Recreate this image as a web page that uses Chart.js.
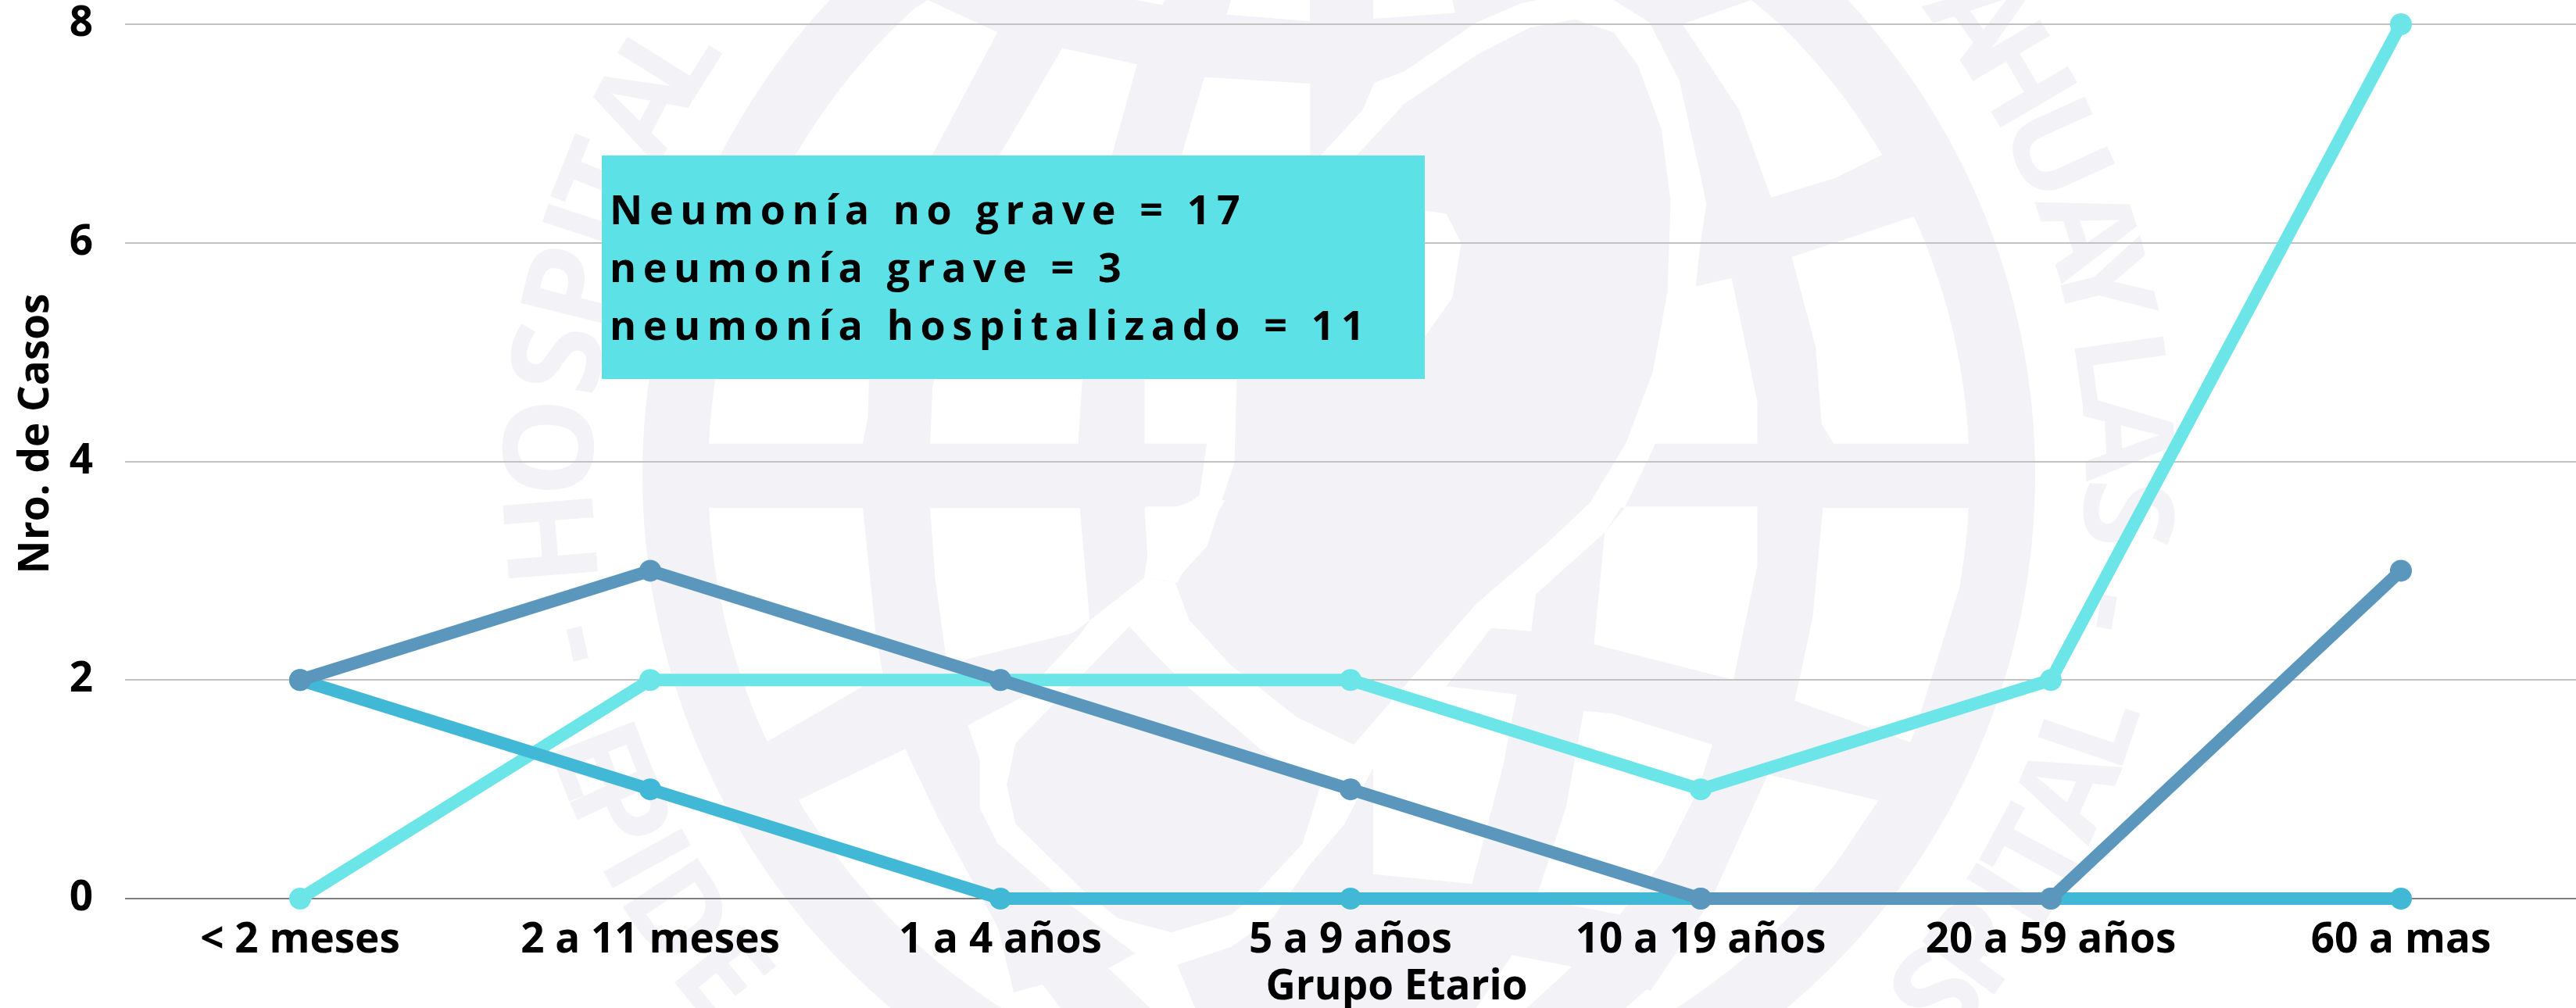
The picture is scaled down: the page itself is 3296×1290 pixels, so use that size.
<!DOCTYPE html>
<html lang="es">
<head>
<meta charset="utf-8">
<title>Neumonía por grupo etario</title>
<script src="https://cdn.jsdelivr.net/npm/chart.js@4"></script>
<style>html,body{margin:0;padding:0;background:#fff}canvas{display:block}</style>
</head>
<body>
<canvas id="c" width="3296" height="1290"></canvas>
<script>
const categories = ['< 2 meses','2 a 11 meses','1 a 4 años','5 a 9 años','10 a 19 años','20 a 59 años','60 a mas'];
const noGrave = [0,2,2,2,1,2,8];
const grave = [2,1,0,0,0,0,0];
const hospitalizado = [2,3,2,1,0,0,3];
const yTicks = [0,2,4,6,8];
const boxLines = ['Neumonía no grave = 17','neumonía grave = 3','neumonía hospitalizado = 11'];
const xTitle = 'Grupo Etario';
const yTitle = 'Nro. de Casos';

const FONT = '"Open Sans"';
const WM = '#f3f3f7';

// Pale hospital seal behind the chart: centre, ring, white globe cells, lettering.
const CX = 1713, CY = 608;
const z5 = (p) => [600 + p[0] * 0.638, p[1] * 0.8227];
const z6 = (p) => [1600 + p[0] * 0.7653, p[1] * 0.8227];
const zt = (p) => [1200 + p[0] * 0.7653, p[1] * 0.4145];
const zb = (p) => [1200 + p[0] * 0.7653, 640 + p[1] * 0.4145];
const cells5 = [
  [[480,690],[790,690],[800,650],[810,400],[930,240],[1060,50],[920,0],[780,70],[650,240],[530,400],[480,600]],
  [[1190,75],[1340,100],[1290,240],[1230,590],[1222,690],[925,690],[930,600],[1000,400],[1065,240]],
  [[1475,120],[1687,130],[1687,242],[1600,400],[1540,590],[1535,720],[1480,850],[1415,905],[1362,880],[1355,790],[1430,790],[1465,770],[1480,690],[1355,690],[1355,590],[1430,240]],
  [[480,790],[790,790],[815,980],[830,1050],[595,1155],[530,1040],[490,900]],
  [[925,790],[1225,790],[1245,965],[1210,985],[1000,1025],[960,1040],[935,900]],
  [[660,1245],[875,1165],[940,1271],[1061,1443],[1100,1568],[900,1568],[780,1420]]
];
const cells6 = [
  [[1115,335],[905,400],[945,540],[955,660],[975,690],[1203,690],[1195,560],[1140,390]],
  [[957,790],[1203,790],[1190,900],[1105,1155],[910,1090],[940,960]],
  [[865,1205],[1050,1245],[945,1390],[800,1568],[650,1568],[770,1400]]
];
const cellsTop = [
  [[490,0],[622,0],[622,65],[483,45]],
  [[728,0],[860,0],[865,40],[728,58]],
  [[330,0],[380,0],[375,15]],
  [[1245,75],[1360,0],[1450,140],[1530,300],[1582,475],[1500,550],[1393,610],[1340,340]],
  [[640,480],[710,340],[730,255],[780,220],[900,70],[975,10],[1030,-10],[1130,0],[1190,70],[1240,250],[1270,500],[1285,630],[1275,750],[1267,885],[1327,858],[1370,1240],[1370,1370],[1200,1370],[1148,1568],[1085,1568],[1150,1370],[1195,1150],[1220,900],[1225,620],[1210,400],[1170,200],[1130,100],[1065,60],[990,85],[900,170],[780,320],[700,480]],
  [[814,650],[850,660],[875,750],[860,920],[814,1040],[780,1040],[780,650]]
];
const cellsBottom = [
  [[347,20],[400,20],[430,0],[480,0],[400,255],[345,240],[352,150]],
  [[345,240],[397,255],[420,370],[490,510],[600,670],[695,755],[728,825],[680,1000],[620,1130],[560,1290],[490,1380],[400,1435],[430,1568],[355,1568],[285,1445],[330,1400],[200,1220],[100,1060],[70,950],[70,800],[50,695],[140,610],[175,540],[240,410],[255,370]],
  [[1095,0],[1150,0],[1115,100],[1000,290],[992,405],[925,395],[850,575],[968,600],[945,820],[893,1185],[728,1155],[728,825],[695,755],[900,320],[1020,130]],
  [[1080,650],[1130,660],[1295,755],[1270,900],[1210,1120],[1140,1280],[1000,1230],[1050,950]],
  [[1150,20],[1370,20],[1370,200],[1330,555],[1097,445],[1115,100]],
  [[960,1405],[1060,1440],[985,1568],[900,1568]],
  [[1185,1510],[1250,1550],[1240,1568],[1150,1568]],
  [[90,1540],[175,1495],[205,1568],[105,1568]]
];
const centralLobe = [[320,390],[360,470],[420,580],[540,770],[640,880],[610,1060],[530,1220],[490,1280],[390,1335],[300,1290],[240,1200],[130,1000],[115,880],[130,750]];
const lettersUp = [['H',175.4],['O',182],['S',188.5],['P',193.8],['I',198.3],['T',201.8],['A',207.7],['L',212],
  ['A',-35.5],['H',-30.5],['U',-24.4],['A',-18.1],['Y',-14],['L',-7.9],['A',-2.8],['S',2.8],['-',10.1],['-',167.5]];
const lettersDown = [['E',158.9],['P',155],['I',151],['D',146.5],['E',141],['L',18.7],['A',23.4],['T',28.4],['I',32],['P',36.5],['S',41]];

const seal = {
  id: 'seal',
  beforeDraw(chart) {
    const ctx = chart.ctx;
    ctx.save();
    ctx.fillStyle = '#fff';
    ctx.fillRect(0, 0, chart.width, chart.height);
    ctx.fillStyle = WM;
    ctx.beginPath();
    ctx.arc(CX, CY, 891, 0, Math.PI * 2);
    ctx.fill();
    ctx.fillStyle = '#fff';
    const poly = (pts, f) => {
      ctx.beginPath();
      pts.forEach((p, i) => { const q = f(p); i ? ctx.lineTo(q[0], q[1]) : ctx.moveTo(q[0], q[1]); });
      ctx.closePath();
      ctx.fill();
    };
    ctx.save();
    ctx.beginPath();
    ctx.arc(CX, CY, 807, 0, Math.PI * 2);
    ctx.clip();
    cells5.forEach(c => poly(c, z5));
    cells6.forEach(c => poly(c, z6));
    cellsTop.forEach(c => poly(c, zt));
    cellsBottom.forEach(c => poly(c, zb));
    ctx.fillStyle = WM;
    poly(centralLobe, zb);
    ctx.restore();
    ctx.fillStyle = WM;
    ctx.font = 'bold 160px ' + FONT;
    ctx.textAlign = 'center';
    ctx.textBaseline = 'alphabetic';
    const put = (ch, deg, r, rot) => {
      const a = deg * Math.PI / 180;
      ctx.save();
      ctx.translate(CX + r * Math.cos(a), CY + r * Math.sin(a));
      ctx.rotate(a + rot);
      ctx.fillText(ch, 0, 0);
      ctx.restore();
    };
    lettersUp.forEach(l => put(l[0], l[1], 955, Math.PI / 2));
    lettersDown.forEach(l => put(l[0], l[1], 1069, -Math.PI / 2));
    ctx.restore();
  }
};

const overlay = {
  id: 'overlay',
  afterDatasetsDraw(chart) {
    const ctx = chart.ctx;
    ctx.save();
    ctx.fillStyle = '#5ce1e6';
    ctx.fillRect(770, 199, 1053, 286);
    ctx.fillStyle = '#000';
    ctx.textAlign = 'left';
    ctx.textBaseline = 'alphabetic';
    ctx.font = 'bold 52px ' + FONT;
    ctx.letterSpacing = '8.6px';
    boxLines.forEach((t, i) => ctx.fillText(t, 780, 287 + i * 74));
    ctx.letterSpacing = '0px';
    ctx.font = 'bold 53px ' + FONT;
    ctx.textAlign = 'center';
    ctx.fillText(xTitle, 1787, 1279);
    ctx.translate(62, 555);
    ctx.rotate(-Math.PI / 2);
    ctx.fillText(yTitle, 0, 0);
    ctx.restore();
  }
};

const line = (label, data, color) => ({
  label, data,
  borderColor: color,
  backgroundColor: color,
  borderWidth: 16,
  tension: 0,
  pointRadius: 14,
  pointHoverRadius: 14,
  pointBorderWidth: 0,
  clip: false
});

const noPad = (s) => { s.paddingTop = 0; s.paddingBottom = 0; s.paddingLeft = 0; s.paddingRight = 0; };

new Chart(document.getElementById('c'), {
  type: 'line',
  data: {
    labels: categories,
    datasets: [
      line('Neumonía hospitalizado', hospitalizado, '#5b97bd'),
      line('Neumonía grave', grave, '#41b8d5'),
      line('Neumonía no grave', noGrave, '#6ce5e8')
    ].map((d, i) => ({ ...d, order: i }))
  },
  plugins: [seal, overlay],
  options: {
    responsive: false,
    devicePixelRatio: 1,
    animation: false,
    layout: { autoPadding: false, padding: { top: 31, left: 0, right: 0, bottom: 0 } },
    plugins: { legend: { display: false }, tooltip: { enabled: false }, title: { display: false } },
    scales: {
      x: {
        offset: true,
        grid: { display: false, drawTicks: false },
        border: { display: false },
        afterFit(s) { s.height = 140; noPad(s); },
        ticks: { color: '#000', font: { family: FONT, size: 53, weight: 'bold' }, padding: 22, maxRotation: 0, autoSkip: false }
      },
      y: {
        min: 0,
        max: 8,
        afterFit(s) { s.width = 160; noPad(s); },
        afterBuildTicks(s) { s.ticks = yTicks.map(v => ({ value: v })); },
        grid: {
          drawTicks: false,
          lineWidth: 2,
          color: (c) => c.tick && c.tick.value === 0 ? '#808080' : '#c2c2c2'
        },
        border: { display: false },
        ticks: { color: '#000', font: { family: FONT, size: 53, weight: 'bold' }, padding: 41 }
      }
    }
  }
});
</script>
</body>
</html>
